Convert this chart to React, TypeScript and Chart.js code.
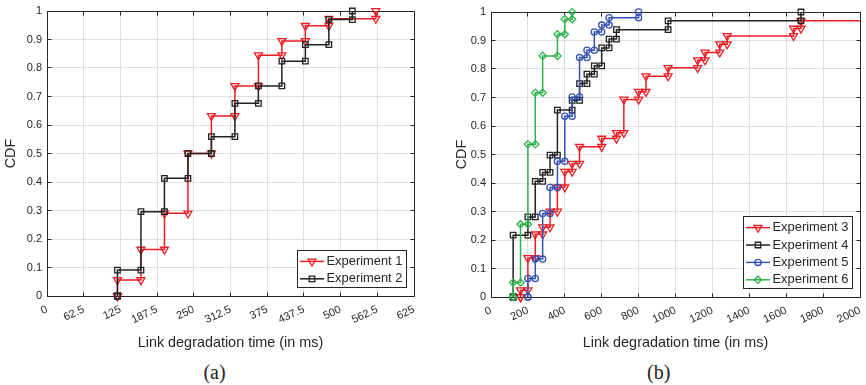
import React, { useEffect, useRef } from "react";
import { Chart, registerables } from "chart.js";
import { drawPoint } from "chart.js/helpers";

Chart.register(...registerables);

// ---------------- data ----------------
const xTicksA = [0, 62.5, 125, 187.5, 250, 312.5, 375, 437.5, 500, 562.5, 625];
const xTickLabelsA = ["0", "62.5", "125", "187.5", "250", "312.5", "375", "437.5", "500", "562.5", "625"];
const xTicksB = [0, 200, 400, 600, 800, 1000, 1200, 1400, 1600, 1800, 2000];
const xTickLabelsB = ["0", "200", "400", "600", "800", "1000", "1200", "1400", "1600", "1800", "2000"];
const yTicks = [0, 0.1, 0.2, 0.3, 0.4, 0.5, 0.6, 0.7, 0.8, 0.9, 1];
const yTickLabels = ["0", "0.1", "0.2", "0.3", "0.4", "0.5", "0.6", "0.7", "0.8", "0.9", "1"];

// ECDF output (x duplicated at first sample with F = 0)
const exp1X = [120, 120, 160, 200, 240, 280, 320, 360, 400, 440, 480, 560];
const exp1F = [0, 0.056, 0.163, 0.29, 0.5, 0.632, 0.737, 0.845, 0.895, 0.948, 0.973, 1];
const exp2X = [120, 120, 160, 200, 240, 280, 320, 360, 400, 440, 480, 520];
const exp2F = [0, 0.091, 0.296, 0.413, 0.5, 0.559, 0.676, 0.737, 0.824, 0.882, 0.97, 1];

const exp3X = [160, 160, 200, 240, 280, 320, 360, 400, 440, 480, 600, 680, 720, 800, 840, 960, 1120, 1160, 1240, 1280, 1640, 1680, 2200];
const exp3F = [0, 0.024, 0.137, 0.22, 0.245, 0.3, 0.385, 0.44, 0.468, 0.527, 0.556, 0.576, 0.693, 0.72, 0.775, 0.804, 0.831, 0.858, 0.887, 0.916, 0.942, 0.969, 1];
const exp4X = [120, 120, 200, 240, 280, 320, 360, 440, 480, 520, 560, 600, 640, 680, 960, 1680];
const exp4F = [0, 0.217, 0.281, 0.406, 0.437, 0.498, 0.656, 0.69, 0.749, 0.782, 0.811, 0.874, 0.905, 0.938, 0.969, 1];
const exp5X = [200, 200, 240, 280, 320, 360, 400, 440, 480, 520, 560, 600, 640, 800];
const exp5F = [0, 0.065, 0.133, 0.293, 0.384, 0.476, 0.634, 0.702, 0.84, 0.866, 0.93, 0.954, 0.98, 1];
const exp6X = [120, 120, 160, 200, 240, 280, 360, 400, 440];
const exp6F = [0, 0.051, 0.255, 0.536, 0.717, 0.846, 0.922, 0.975, 1];

const xTitle = "Link degradation time (in ms)";
const yTitle = "CDF";

// ---------------- styles ----------------
const FONT = "'Liberation Sans', Arial, Helvetica, sans-serif";
const AXIS = "#262626";
const GRID = "#dfdfdf";
const RED = "#ee1d25";
const BLACK = "#222222";
const BLUE = "#3753b3";
const GREEN = "#2db34a";

type Series = { label: string; X: number[]; F: number[]; color: string; marker: string; rot: number; r: number };

const seriesA: Series[] = [
  { label: "Experiment 1", X: exp1X, F: exp1F, color: RED, marker: "triangle", rot: 180, r: 4.6 },
  { label: "Experiment 2", X: exp2X, F: exp2F, color: BLACK, marker: "rect", rot: 0, r: 3.9 },
];
const seriesB: Series[] = [
  { label: "Experiment 3", X: exp3X, F: exp3F, color: RED, marker: "triangle", rot: 180, r: 4.6 },
  { label: "Experiment 4", X: exp4X, F: exp4F, color: BLACK, marker: "rect", rot: 0, r: 3.9 },
  { label: "Experiment 5", X: exp5X, F: exp5F, color: BLUE, marker: "circle", rot: 0, r: 3.1 },
  { label: "Experiment 6", X: exp6X, F: exp6F, color: GREEN, marker: "rectRot", rot: 0, r: 3.6 },
];

function stairs(X: number[], F: number[]) {
  const pts: { x: number; y: number }[] = [];
  for (let i = 0; i < X.length; i++) {
    if (i > 0) pts.push({ x: X[i], y: F[i - 1] });
    pts.push({ x: X[i], y: F[i] });
  }
  return pts;
}

const align = (p: number) => Math.round(p - 0.5) + 0.5;

const boxPlugin = {
  id: "mbox",
  beforeDatasetsDraw(chart: any) {
    const { ctx, chartArea: a, scales } = chart;
    const xs = scales.x;
    const ys = scales.y;
    const L = align(a.left), R = align(a.right), T = align(a.top), B = align(a.bottom);
    const tl = 4;
    ctx.save();
    ctx.strokeStyle = AXIS;
    ctx.lineWidth = 1;
    ctx.beginPath();
    ctx.rect(L, T, R - L, B - T);
    for (const t of xs.ticks) {
      const px = align(xs.getPixelForValue(t.value));
      ctx.moveTo(px, B); ctx.lineTo(px, B - tl);
      ctx.moveTo(px, T); ctx.lineTo(px, T + tl);
    }
    for (const t of ys.ticks) {
      const py = align(ys.getPixelForValue(t.value));
      ctx.moveTo(L, py); ctx.lineTo(L + tl, py);
      ctx.moveTo(R, py); ctx.lineTo(R - tl, py);
    }
    ctx.stroke();
    ctx.restore();
  },
};

const legendPlugin = {
  id: "mlegend",
  afterDraw(chart: any) {
    const { ctx, chartArea: a } = chart;
    const ds = chart.data.datasets;
    const rowH = 17.4, w = 109, padTop = 2.6;
    const h = ds.length * rowH + padTop;
    const right = a.right - 8, bottom = a.bottom - 8.5;
    const left = right - w, top = bottom - h;
    ctx.save();
    ctx.fillStyle = "#ffffff";
    ctx.fillRect(left, top, w, h);
    ctx.strokeStyle = AXIS;
    ctx.lineWidth = 1;
    ctx.strokeRect(align(left), align(top), Math.round(w), Math.round(h));
    ds.forEach((d: any, i: number) => {
      const cy = top + padTop + rowH * (i + 0.5);
      ctx.strokeStyle = d.borderColor;
      ctx.lineWidth = 1.5;
      ctx.beginPath();
      ctx.moveTo(left + 3, cy);
      ctx.lineTo(left + 27, cy);
      ctx.stroke();
      ctx.fillStyle = "rgba(0,0,0,0)";
      ctx.lineWidth = 1.3;
      drawPoint(ctx, { pointStyle: d.pointStyle, rotation: d.pointRotation, radius: d.pointRadius, borderWidth: 1.3 }, left + 15, cy);
      ctx.fillStyle = AXIS;
      ctx.font = `12.9px ${FONT}`;
      ctx.textBaseline = "middle";
      ctx.textAlign = "left";
      ctx.fillText(d.label, left + 29.5, cy);
    });
    ctx.restore();
  },
};

type PanelProps = {
  series: Series[];
  xTicks: number[];
  xTickLabels: string[];
  xMax: number;
  left: number;
  width: number;
  height: number;
  padTop: number;
  padRight: number;
  yw: number;
  xh: number;
  yTitlePad: number;
};

function Panel(p: PanelProps) {
  const ref = useRef<HTMLCanvasElement | null>(null);
  useEffect(() => {
    if (!ref.current) return;
    const n = p.series.length;
    const datasets = p.series.map((s, i) => ({
      label: s.label,
      data: stairs(s.X, s.F),
      borderColor: s.color,
      backgroundColor: "rgba(0,0,0,0)",
      borderWidth: 1.5,
      pointStyle: s.marker,
      pointRotation: s.rot,
      pointRadius: s.r,
      pointHoverRadius: s.r,
      pointBorderWidth: 1.3,
      pointBorderColor: s.color,
      pointBackgroundColor: "rgba(0,0,0,0)",
      tension: 0,
      fill: false,
      order: n - i,
      clip: { left: 10, top: 10, right: 0, bottom: 10 },
    }));
    const chart = new Chart(ref.current, {
      type: "line",
      data: { datasets },
      options: {
        animation: false,
        responsive: false,
        maintainAspectRatio: false,
        events: [],
        layout: { padding: { top: p.padTop, right: p.padRight, left: 0, bottom: 0 } },
        plugins: { legend: { display: false }, tooltip: { enabled: false } },
        scales: {
          x: {
            type: "linear",
            min: 0,
            max: p.xMax,
            afterBuildTicks: (s: any) => {
              s.ticks = p.xTicks.map((v) => ({ value: v }));
            },
            afterFit: (s: any) => {
              s.height = p.xh;
              s.paddingLeft = 0;
              s.paddingRight = 0;
            },
            ticks: {
              callback: (_v: any, i: number) => p.xTickLabels[i],
              minRotation: 25,
              maxRotation: 25,
              autoSkip: false,
              padding: 7,
              color: AXIS,
              font: { size: 11, family: FONT },
            },
            grid: { color: GRID, lineWidth: 1, drawTicks: false },
            border: { display: false },
            title: {
              display: true,
              text: xTitle,
              color: AXIS,
              font: { size: 14.4, family: FONT },
              padding: { top: 0, bottom: 2 },
            },
          },
          y: {
            type: "linear",
            min: 0,
            max: 1,
            afterBuildTicks: (s: any) => {
              s.ticks = yTicks.map((v) => ({ value: v }));
            },
            afterFit: (s: any) => {
              s.width = p.yw;
              s.paddingTop = 0;
              s.paddingBottom = 0;
            },
            ticks: {
              callback: (_v: any, i: number) => yTickLabels[i],
              autoSkip: false,
              padding: 5,
              color: AXIS,
              font: { size: 11, family: FONT },
            },
            grid: { color: GRID, lineWidth: 1, drawTicks: false },
            border: { display: false },
            title: {
              display: true,
              text: yTitle,
              color: AXIS,
              font: { size: 14.4, family: FONT },
              padding: { top: p.yTitlePad, bottom: 0 },
            },
          },
        },
      } as any,
      plugins: [boxPlugin, legendPlugin],
    });
    return () => chart.destroy();
  }, []);
  return (
    <canvas
      ref={ref}
      width={p.width}
      height={p.height}
      style={{ position: "absolute", left: p.left, top: 0, width: p.width, height: p.height }}
    />
  );
}

const captionStyle = (cx: number): React.CSSProperties => ({
  position: "absolute",
  left: cx - 40,
  width: 80,
  top: 360,
  height: 24,
  lineHeight: "24px",
  textAlign: "center",
  fontFamily: "'Liberation Serif', 'Times New Roman', Times, serif",
  fontSize: 20,
  color: "#222",
});

export default function App() {
  return (
    <div style={{ position: "fixed", left: 0, top: 0, width: 866, height: 385, background: "#fff", overflow: "hidden" }}>
      <Panel
        series={seriesA}
        xTicks={xTicksA}
        xTickLabels={xTickLabelsA}
        xMax={625}
        left={0}
        width={432}
        height={354}
        padTop={11}
        padRight={18}
        yw={47}
        xh={58}
        yTitlePad={1.9}
      />
      <Panel
        series={seriesB}
        xTicks={xTicksB}
        xTickLabels={xTickLabelsB}
        xMax={2000}
        left={444}
        width={422}
        height={354}
        padTop={12}
        padRight={6}
        yw={47}
        xh={57}
        yTitlePad={9.4}
      />
      <div style={captionStyle(214.5)}>(a)</div>
      <div style={captionStyle(658.7)}>(b)</div>
    </div>
  );
}
